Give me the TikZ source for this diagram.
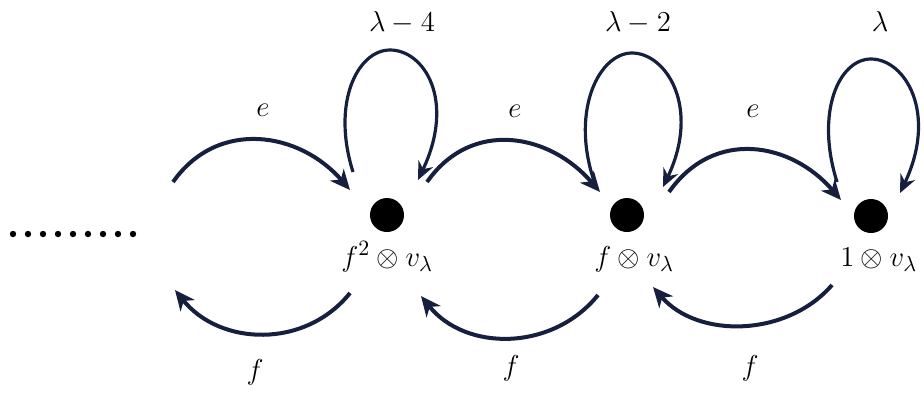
\documentclass[tikz,border=0pt]{standalone}
\usetikzlibrary{arrows.meta}
\definecolor{navy}{RGB}{22,32,62}
\begin{document}
\begin{tikzpicture}[x=0.5pt,y=-0.5pt,
  vert/.style={circle,fill=black,inner sep=0pt,minimum size=17pt},
  smalldot/.style={circle,fill=black,inner sep=0pt,minimum size=3.2pt},
  lab/.style={inner sep=0pt,font=\fontsize{15}{18}\selectfont},
  arc/.style={draw=navy,line width=2pt,-{Stealth[length=10pt,width=9pt,inset=3pt]}},
  loopc/.style={draw=navy,line width=1.6pt,-{Stealth[length=9pt,width=8pt,inset=3pt]}}]
\useasboundingbox (0,0) rectangle (924,392);

% dotted ellipsis
\foreach \i in {0,...,8} \node[smalldot] (s\i) at (13+15*\i,234) {};

% vertices
\node[vert] (d1) at (387,215) {};
\node[vert] (d2) at (627,215) {};
\node[vert] (d3) at (871,216) {};

% vertex labels
\node[lab,anchor=base west] (t1) at (341,266) {$f^2\otimes v_\lambda$};
\node[lab,anchor=base west] (t2) at (594,266) {$f\otimes v_\lambda$};
\node[lab,anchor=base west] (t3) at (840,266) {$1\otimes v_\lambda$};

% weights
\node[lab,anchor=base] (w1) at (402,31) {$\lambda-4$};
\node[lab,anchor=base] (w2) at (638,31) {$\lambda-2$};
\node[lab,anchor=base] (w3) at (880,31) {$\lambda$};

% e / f labels
\node[lab,anchor=base] (e1) at (263,116) {$e$};
\node[lab,anchor=base] (e2) at (515,117) {$e$};
\node[lab,anchor=base] (e3) at (753,117) {$e$};
\node[lab] (f1) at (255,372) {$f$};
\node[lab] (f2) at (511,368) {$f$};
\node[lab] (f3) at (750,368) {$f$};

% connector ends
\coordinate (e1s) at (173,182); \coordinate (e1t) at (350,190);
\coordinate (e2s) at (427,182); \coordinate (e2t) at (600,192);
\coordinate (e3s) at (669,192); \coordinate (e3t) at (841,200);
\coordinate (f1s) at (350,293); \coordinate (f1t) at (175,290);
\coordinate (f2s) at (598,295); \coordinate (f2t) at (421,296);
\coordinate (f3s) at (832,285); \coordinate (f3t) at (653,287);
\coordinate (l1s) at (353,172); \coordinate (l1m) at (390,50); \coordinate (l1t) at (418,180);
\coordinate (l2s) at (593,178); \coordinate (l2m) at (632,53); \coordinate (l2t) at (663,187);
\coordinate (l3s) at (837,182); \coordinate (l3m) at (871,59); \coordinate (l3t) at (900,193);

% e arrows
\draw[arc] (e1s) .. controls (218,118) and (300,132) .. (e1t);
\draw[arc] (e2s) .. controls (472,118) and (550,134) .. (e2t);
\draw[arc] (e3s) .. controls (714,128) and (791,142) .. (e3t);

% f arrows
\draw[arc] (f1s) .. controls (305,349) and (220,346) .. (f1t);
\draw[arc] (f2s) .. controls (553,351) and (466,352) .. (f2t);
\draw[arc] (f3s) .. controls (787,337) and (698,339) .. (f3t);

% loops
\foreach \k in {1,2,3}
  \draw[loopc] (l\k s) .. controls +(-22,-70) and +(-32,0) .. (l\k m)
    .. controls +(34,0) and +(38,-80) .. (l\k t);
\end{tikzpicture}
\end{document}
